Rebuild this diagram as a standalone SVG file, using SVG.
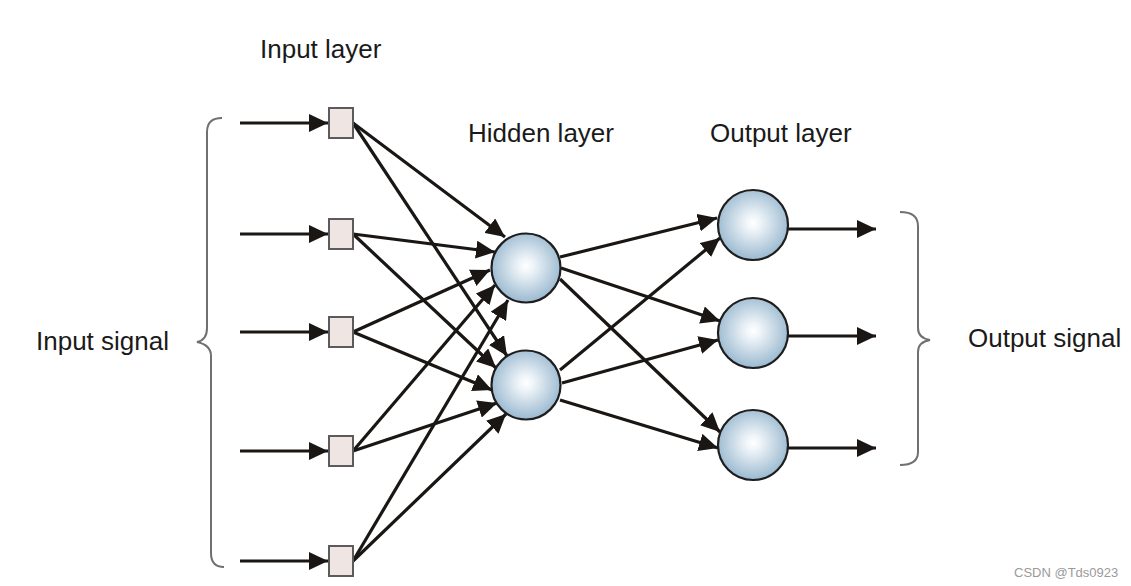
<svg xmlns="http://www.w3.org/2000/svg" width="1131" height="586" viewBox="0 0 1131 586">
<defs>
<radialGradient id="ball" cx="50%" cy="47%" r="55%">
<stop offset="0" stop-color="#ffffff"/>
<stop offset="0.2" stop-color="#eef4f8"/>
<stop offset="1" stop-color="#96b6ce"/>
</radialGradient>
<marker id="ah" markerUnits="userSpaceOnUse" markerWidth="20" markerHeight="18" refX="19" refY="9" orient="auto" viewBox="0 0 20 18">
<path d="M0,0 L19,9 L0,18 z" fill="#1a1614"/>
</marker>
<style>
.lbl{font-family:"Liberation Sans",Arial,sans-serif;font-size:26px;fill:#1a1a1a}
.wm{font-family:"Liberation Sans",Arial,sans-serif;font-size:13px;fill:#9a9a9a}
.sq{fill:#efe6e4;stroke:#5c5a5a;stroke-width:2}
.ball{fill:url(#ball);stroke:#1e1e1e;stroke-width:2.2}
.c{stroke:#1a1614;stroke-width:3.2;fill:none;marker-end:url(#ah)}
.br{stroke:#707070;stroke-width:2;fill:none}
</style>
</defs>
<rect width="1131" height="586" fill="#ffffff"/>

<text class="lbl" x="260" y="58">Input layer</text>
<text class="lbl" x="468" y="142">Hidden layer</text>
<text class="lbl" x="710" y="142">Output layer</text>
<text class="lbl" x="36" y="350">Input signal</text>
<text class="lbl" x="968" y="347">Output signal</text>
<text class="wm" x="1014" y="577">CSDN @Tds0923</text>

<path class="br" d="M222,118 Q207,118 207,132 L207,328 Q207,340 197,342 Q211,345 211,356 L211,553 Q211,567 224,567"/>
<path class="br" d="M900,212 Q918,212 918,226 L918,328 Q918,338 930,340 Q918,342 918,352 L918,452 Q918,465 900,465"/>

<g id="connectors">
<line class="c" x1="240" y1="123" x2="328" y2="123"/>
<line class="c" x1="240" y1="234" x2="328" y2="234"/>
<line class="c" x1="240" y1="332" x2="328" y2="332"/>
<line class="c" x1="240" y1="451" x2="328" y2="451"/>
<line class="c" x1="240" y1="561" x2="328" y2="561"/>

<line class="c" x1="353" y1="123" x2="505" y2="237"/>
<line class="c" x1="353" y1="234" x2="495" y2="252"/>
<line class="c" x1="353" y1="332" x2="490" y2="270"/>
<line class="c" x1="353" y1="451" x2="495" y2="285"/>
<line class="c" x1="353" y1="561" x2="508" y2="300"/>

<line class="c" x1="353" y1="123" x2="507" y2="356"/>
<line class="c" x1="353" y1="234" x2="496" y2="368"/>
<line class="c" x1="353" y1="332" x2="492" y2="390"/>
<line class="c" x1="353" y1="451" x2="497" y2="403"/>
<line class="c" x1="353" y1="561" x2="506" y2="414"/>

<line class="c" x1="560" y1="257" x2="717" y2="218"/>
<line class="c" x1="561" y1="268" x2="720" y2="321"/>
<line class="c" x1="560" y1="279" x2="720" y2="432"/>
<line class="c" x1="560" y1="370" x2="720" y2="238"/>
<line class="c" x1="562" y1="383" x2="718" y2="340"/>
<line class="c" x1="560" y1="400" x2="718" y2="448"/>

<line class="c" x1="788" y1="229" x2="876" y2="229"/>
<line class="c" x1="788" y1="336" x2="876" y2="336"/>
<line class="c" x1="788" y1="448" x2="876" y2="448"/>
</g>

<g id="in1"><rect class="sq" x="329" y="108" width="24" height="30"/></g>
<g id="in2"><rect class="sq" x="329" y="219" width="24" height="30"/></g>
<g id="in3"><rect class="sq" x="329" y="317" width="24" height="30"/></g>
<g id="in4"><rect class="sq" x="329" y="436" width="24" height="30"/></g>
<g id="in5"><rect class="sq" x="329" y="546" width="24" height="30"/></g>

<g id="h1"><circle class="ball" cx="526" cy="268" r="34.5"/></g>
<g id="h2"><circle class="ball" cx="526" cy="385" r="34.5"/></g>

<g id="o1"><circle class="ball" cx="753" cy="225" r="35"/></g>
<g id="o2"><circle class="ball" cx="753" cy="333" r="35"/></g>
<g id="o3"><circle class="ball" cx="753" cy="445" r="35"/></g>
</svg>
